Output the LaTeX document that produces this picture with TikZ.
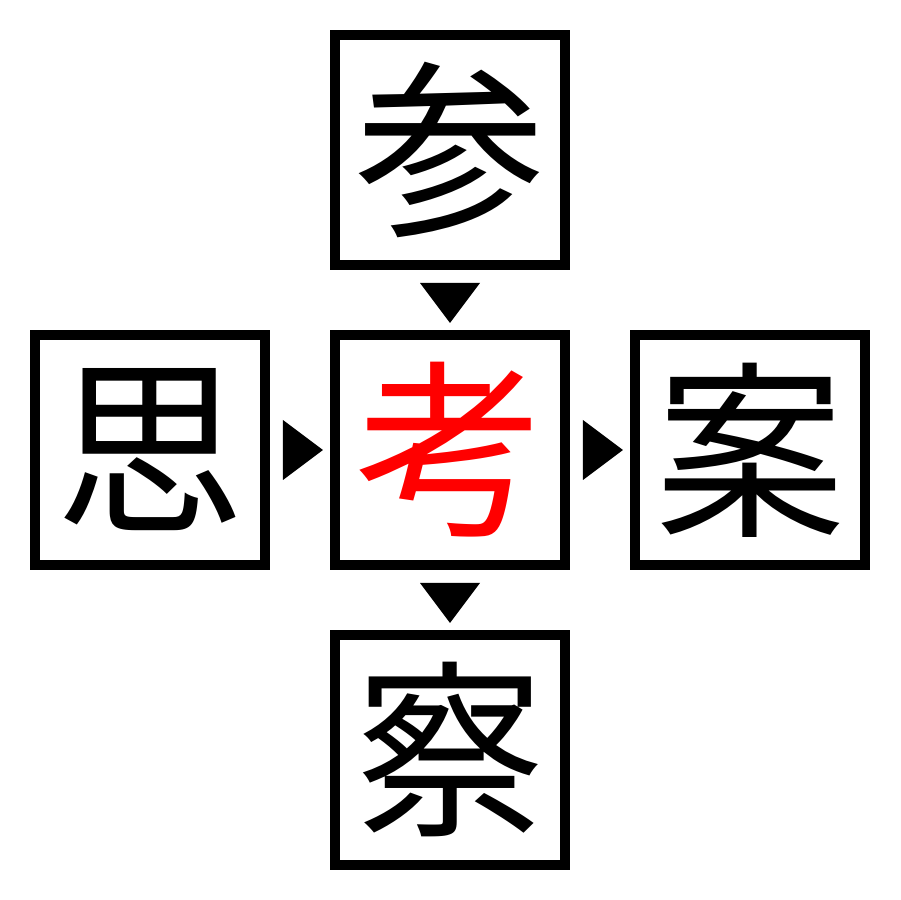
\documentclass[tikz,border=0pt]{standalone}
\usepackage{fontspec}
\newfontfamily\cjk{Noto Sans CJK JP}
\usetikzlibrary{calc}
\begin{document}
\begin{tikzpicture}[x=0.02cm,y=0.02cm,
  kbox/.style={draw=black,line width=0.2cm,minimum size=4.6cm,inner sep=0pt,
    font=\cjk\fontsize{108}{108}\selectfont},
  tri/.style={fill=black,draw=none}]
\useasboundingbox (0,0) rectangle (900,900);
\node[kbox] (top) at (450,750) {参};
\node[kbox,text=red] (mid) at (450,450) {考};
\node[kbox] (left) at (150,450) {思};
\node[kbox] (right) at (750,450) {案};
\node[kbox] (bot) at (450,150) {察};
% down triangles
\fill[tri] ($(top.south)+(-30,-13)$) -- ++(60,0) -- ++(-30,-40) -- cycle;
\fill[tri] ($(mid.south)+(-30,-13)$) -- ++(60,0) -- ++(-30,-40) -- cycle;
% right triangles
\fill[tri] ($(left.east)+(13,30)$) -- ++(0,-60) -- ++(40,30) -- cycle;
\fill[tri] ($(mid.east)+(13,30)$) -- ++(0,-60) -- ++(40,30) -- cycle;
\end{tikzpicture}
\end{document}
